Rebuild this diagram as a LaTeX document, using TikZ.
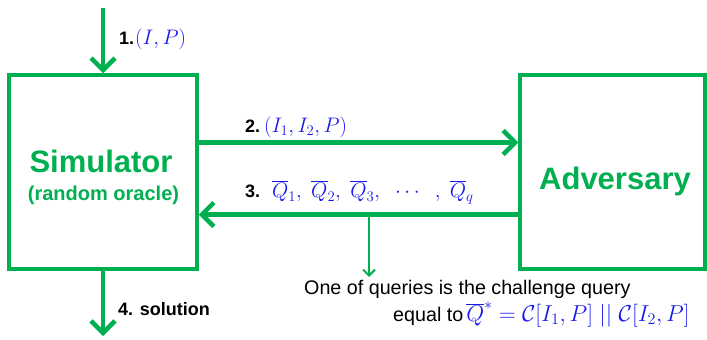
\RequirePackage{fix-cm}
\documentclass[tikz,border=0pt]{standalone}
\usepackage{fontspec}
\setmainfont{Liberation Sans}
\usetikzlibrary{arrows.meta}
\definecolor{grn}{RGB}{0,176,80}
\definecolor{mblue}{RGB}{25,25,235}
\tikzset{
  boxnode/.style={draw=grn, line width=3.5pt, inner sep=0pt},
  bigarrow/.style={draw=grn, line width=4.5pt, -{Straight Barb[length=12pt,width=24pt]}},
  thinarrow/.style={draw=grn, line width=2pt, -{Straight Barb[length=6pt,width=12pt]}},
  lbl/.style={anchor=base west, inner sep=0pt, font=\bfseries\fontsize{18}{22}\selectfont},
  boxtitle/.style={anchor=base, inner sep=0pt, text=grn, font=\bfseries\fontsize{31}{36}\selectfont},
  boxsub/.style={anchor=base, inner sep=0pt, text=grn, font=\bfseries\fontsize{20}{24}\selectfont},
  note/.style={anchor=base west, inner sep=0pt, font=\fontsize{19.7}{23}\selectfont}
}
\newcommand{\mb}[1]{\textcolor{mblue}{$#1$}}
\newcommand{\lm}[1]{{\mdseries\fontsize{21}{24}\selectfont\mb{#1}}}
\begin{document}
\begin{tikzpicture}[x=1pt,y=-1pt]
\useasboundingbox (0,0) rectangle (707,340);
% boxes
\node[boxnode, minimum width=188pt, minimum height=194pt] (sim) at (103,172) {};
\node[boxnode, minimum width=185pt, minimum height=194pt] (adv) at (612.5,172) {};
\node[boxtitle] (simt) at (101,172) {Simulator};
\node[boxsub] (simr) at (103.5,200) {(random oracle)};
\node[boxtitle] (advt) at (615,189) {Adversary};
% arrows
\coordinate (in) at (103,8);
\coordinate (out) at (103,336);
\draw[bigarrow] (in) -- (sim.north);
\draw[bigarrow] (sim.south) -- (out);
\draw[bigarrow] ([yshift=29.5pt]sim.east) -- ([yshift=29.5pt]adv.west);
\draw[bigarrow] ([yshift=-42.5pt]adv.west) -- ([yshift=-42.5pt]sim.east);
\coordinate (qs) at (369,215);
\coordinate (qe) at (369,277);
\draw[thinarrow] (qs) -- (qe);
% labels
\node[lbl] (l1) at (119,44) {1.\hspace{1pt}\lm{(I,P)}};
\node[lbl] (l2) at (245,132) {2.\hspace{4pt}\lm{(I_1,I_2,P)}};
\node[lbl] (l3) at (245,197) {3.\hspace{12pt}\lm{\overline{Q}_1,\;\overline{Q}_2,\;\overline{Q}_3,\;\;\cdots\;\;,\;\overline{Q}_q}};
\node[lbl] (l4) at (118,315) {4. solution};
\node[note] (n1) at (304,294) {One of queries is the challenge query};
\node[note] (n2) at (393,321) {equal to\hspace{3pt}{\fontsize{23}{27}\selectfont\mb{\overline{Q}^{*}=\mathcal{C}[I_1,P]\;||\;\mathcal{C}[I_2,P]}}};
\end{tikzpicture}
\end{document}
